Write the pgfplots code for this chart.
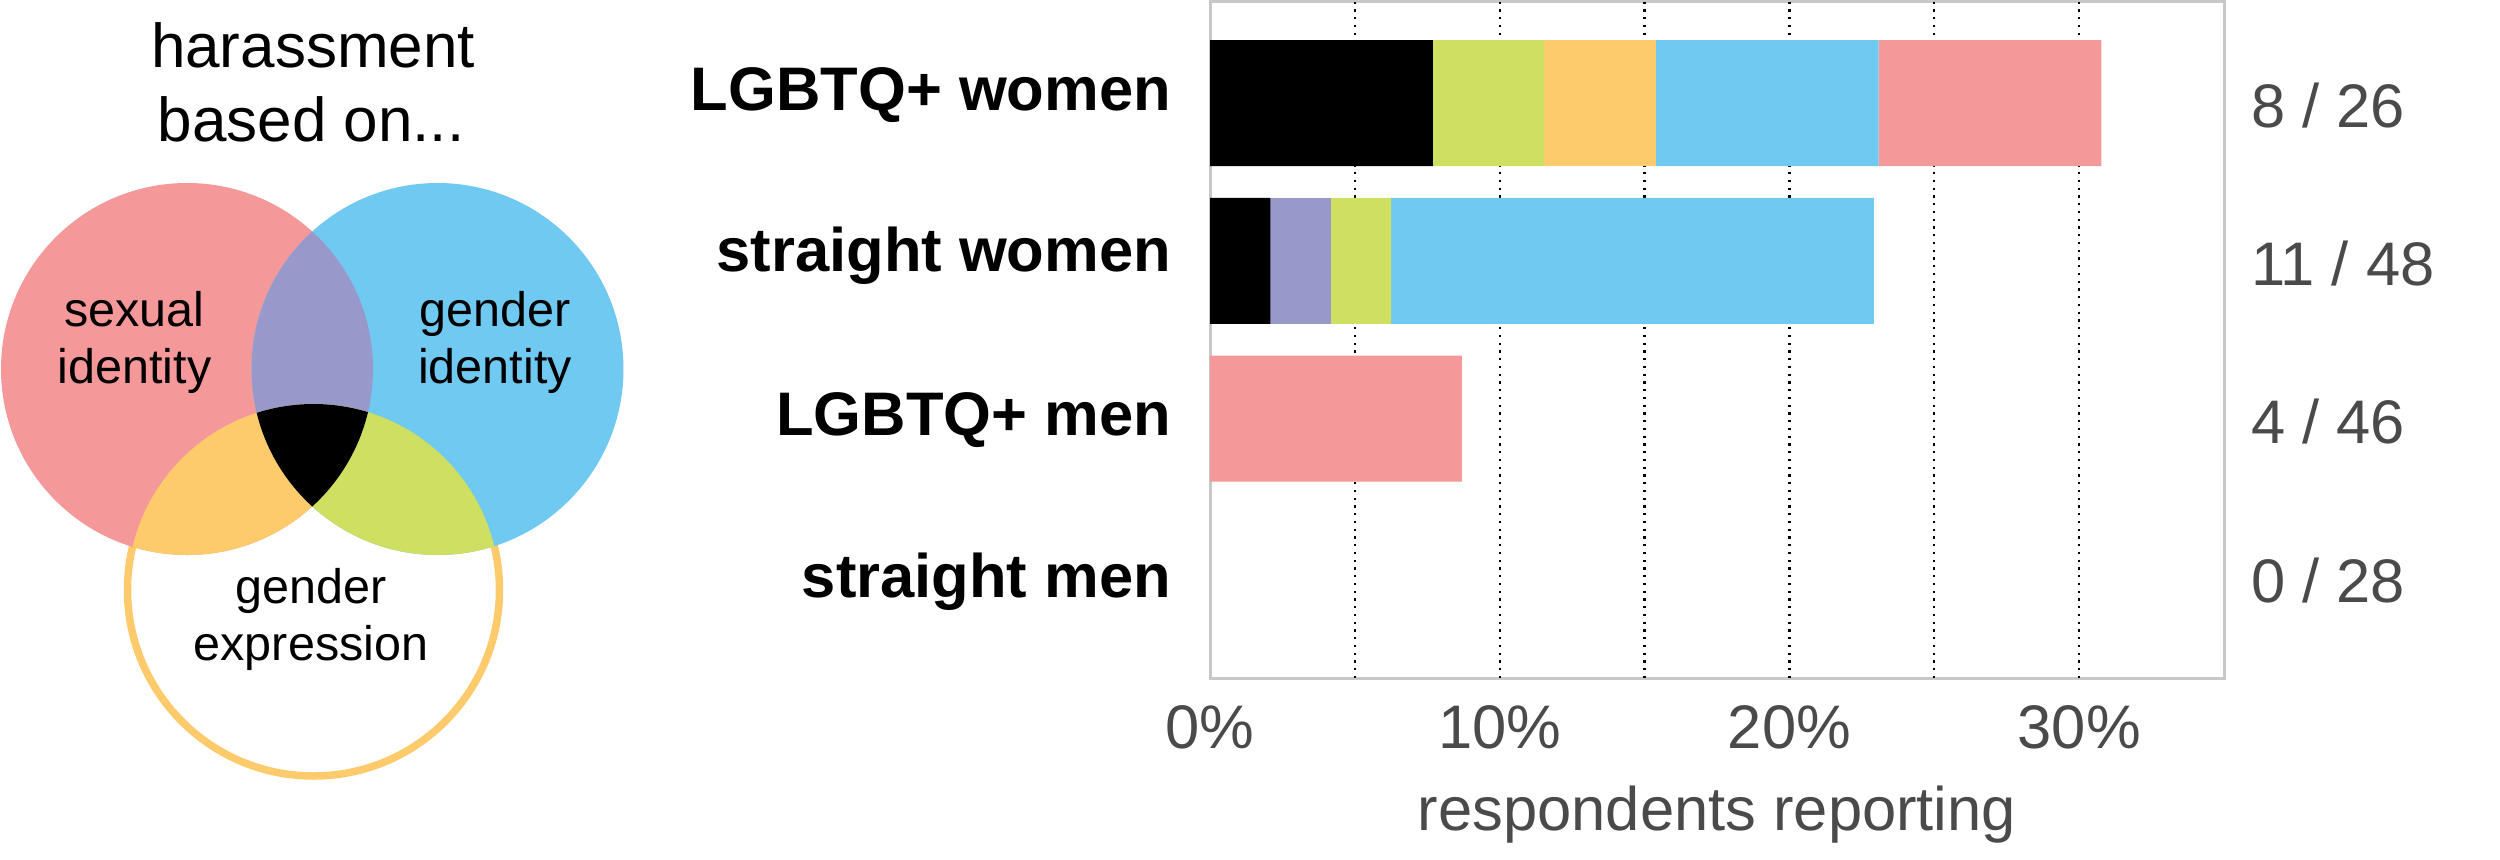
\documentclass[border=0pt]{standalone}
\usepackage{fontspec}
\setmainfont{Liberation Sans}
\usepackage{pgfplots}
\pgfplotsset{compat=1.18}
\definecolor{vred}{HTML}{F4989A}
\definecolor{vblue}{HTML}{6FC9F1}
\definecolor{vpurple}{HTML}{9899CA}
\definecolor{vorange}{HTML}{FDCB6B}
\definecolor{vgreen}{HTML}{CFDF62}
\definecolor{framegray}{HTML}{C8C8C8}
\definecolor{tickgray}{HTML}{4A4A4A}
\newcommand{\circR}{(187,369) circle[radius=186]}
\newcommand{\circB}{(437.5,369) circle[radius=186]}
\newcommand{\circO}{(313.5,590) circle[radius=186]}
\newcommand{\ticksize}{\fontsize{12.3}{14}\selectfont}
\newcommand{\catsize}{\fontsize{12.3}{14}\selectfont\bfseries}

\begin{document}
\begin{tikzpicture}[x=1pt,y=1pt]
\useasboundingbox (0,0) rectangle (500,-171.8);

% venn diagram, drawn in pixel units of the reference (0.2pt per px, y down)
\begin{scope}[x=0.2pt,y=-0.2pt]
  \draw[vorange, line width=1.5pt] \circO;
  \fill[vred] \circR;
  \fill[vblue] \circB;
  \begin{scope}
    \clip \circR;
    \fill[vpurple] \circB;
    \fill[vorange] \circO;
  \end{scope}
  \begin{scope}
    \clip \circB;
    \fill[vgreen] \circO;
  \end{scope}
  \begin{scope}
    \clip \circR;
    \clip \circB;
    \fill[black] \circO;
  \end{scope}
  \begin{scope}[font=\fontsize{12.4}{14}\selectfont]
    \node[anchor=base, inner sep=0pt] at (313,67) {harassment};
    \node[anchor=base, inner sep=0pt] at (311,141) {based on...};
  \end{scope}
  \begin{scope}[font=\fontsize{9.7}{11}\selectfont]
    \node[anchor=base, inner sep=0pt] at (134.5,326) {sexual};
    \node[anchor=base, inner sep=0pt] at (134.5,383.6) {identity};
    \node[anchor=base, inner sep=0pt] at (495,326) {gender};
    \node[anchor=base, inner sep=0pt] at (495,383.6) {identity};
    \node[anchor=base, inner sep=0pt] at (311,603) {gender};
    \node[anchor=base, inner sep=0pt] at (311,660) {expression};
  \end{scope}
\end{scope}

\begin{axis}[
    at={(242pt,-0.3pt)}, anchor=north west,
    width=202.8pt, height=135.3pt, scale only axis,
    xbar stacked, bar width=25.2pt,
    xmin=0, xmax=35,
    ymin=-0.645, ymax=3.645, y dir=reverse,
    ytick=\empty,
    xtick={0,10,20,30},
    xticklabels={0\%,10\%,20\%,30\%},
    xticklabel style={anchor=base, inner sep=0pt, yshift=-14pt, font=\ticksize, text=tickgray},
    major tick length=0pt, minor tick length=0pt,
    extra x ticks={5,10,15,20,25,30},
    extra x tick labels={},
    extra x tick style={xmajorgrids=true,
        major grid style={black, line width=0.45pt, dash pattern=on 0.45pt off 1.1pt}},
    axis line style={draw=framegray, line width=0.6pt},
    xlabel={respondents reporting},
    xlabel style={at={(axis description cs:0.5,0)}, anchor=base, inner sep=0pt, yshift=-30.4pt,
        font=\ticksize, text=tickgray},
    clip=false,
]
% sexual + gender identity + gender expression
\addplot[fill=black, draw=none] coordinates {(7.692,0) (2.083,1) (0,2) (0,3)};
% sexual + gender identity
\addplot[fill=vpurple, draw=none] coordinates {(0,0) (2.083,1) (0,2) (0,3)};
% gender identity + expression
\addplot[fill=vgreen, draw=none] coordinates {(3.846,0) (2.083,1) (0,2) (0,3)};
% sexual identity + expression
\addplot[fill=vorange, draw=none] coordinates {(3.846,0) (0,1) (0,2) (0,3)};
% gender identity
\addplot[fill=vblue, draw=none] coordinates {(7.692,0) (16.667,1) (0,2) (0,3)};
% sexual identity
\addplot[fill=vred, draw=none] coordinates {(7.692,0) (0,1) (8.696,2) (0,3)};

% group names
\node[anchor=base east, inner sep=0pt, font=\catsize, xshift=-7.6pt, yshift=-1.4pt] at (axis cs:0,0) {LGBTQ+ women};
\node[anchor=base east, inner sep=0pt, font=\catsize, xshift=-7.6pt, yshift=-2.2pt] at (axis cs:0,1) {straight women};
\node[anchor=base east, inner sep=0pt, font=\catsize, xshift=-7.6pt, yshift=-3.4pt] at (axis cs:0,2) {LGBTQ+ men};
\node[anchor=base east, inner sep=0pt, font=\catsize, xshift=-7.6pt, yshift=-4.2pt] at (axis cs:0,3) {straight men};

% counts
\node[anchor=base west, inner sep=0pt, font=\ticksize, text=tickgray, xshift=5.2pt, yshift=-4.9pt] at (axis cs:35,0) {8 / 26};
\node[anchor=base west, inner sep=0pt, font=\ticksize, text=tickgray, xshift=5.2pt, yshift=-4.9pt] at (axis cs:35,1) {11 / 48};
\node[anchor=base west, inner sep=0pt, font=\ticksize, text=tickgray, xshift=5.2pt, yshift=-5pt] at (axis cs:35,2) {4 / 46};
\node[anchor=base west, inner sep=0pt, font=\ticksize, text=tickgray, xshift=5.2pt, yshift=-5.3pt] at (axis cs:35,3) {0 / 28};
\end{axis}
\end{tikzpicture}
\end{document}
